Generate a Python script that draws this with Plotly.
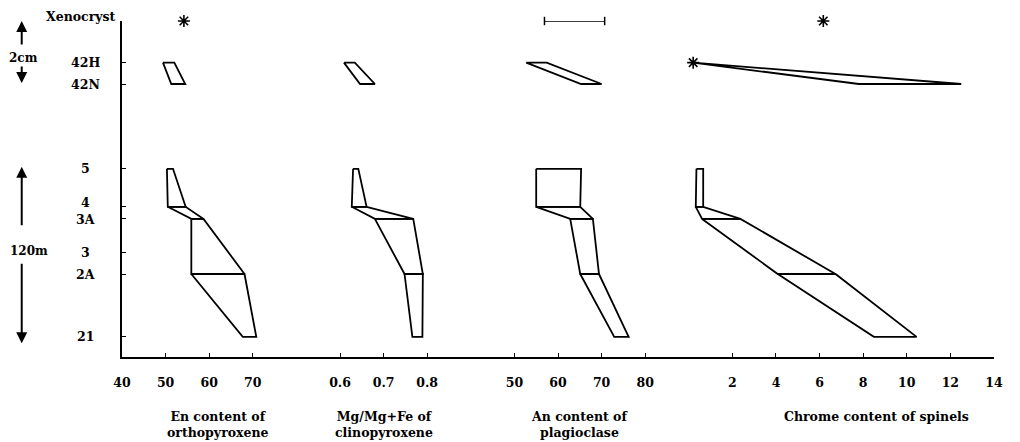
import plotly.graph_objects as go

# ---------------- data ----------------
sample_labels = ["Xenocryst", "42H", "42N", "5", "4", "3A", "3", "2A", "21"]
sample_pos = [0, 12.4, 18.75, 44.0, 55.3, 58.9, 69.0, 75.3, 94.0]

core_levels = ["42H", "42N"]
bore_levels = ["5", "4", "3A", "2A", "21"]

# En content of orthopyroxene
opx_core_min = [49.4, 51.3]
opx_core_max = [52.0, 54.5]
opx_bore_min = [50.3, 50.5, 55.9, 55.9, 67.7]
opx_bore_max = [51.7, 54.6, 58.7, 68.1, 70.8]
opx_xeno = [54.2]

# Mg/Mg+Fe of clinopyroxene
cpx_core_min = [0.609, 0.646]
cpx_core_max = [0.634, 0.680]
cpx_bore_min = [0.630, 0.627, 0.680, 0.748, 0.766]
cpx_bore_max = [0.642, 0.661, 0.768, 0.790, 0.789]

# An content of plagioclase
plag_core_min = [52.7, 65.3]
plag_core_max = [57.4, 70.0]
plag_bore_min = [55.0, 55.0, 62.8, 65.1, 72.9]
plag_bore_max = [65.3, 65.1, 68.0, 69.4, 76.2]
plag_xeno = [56.9, 70.7]

# Chrome content of spinels
spin_core_min = [0.2, 7.8]
spin_core_max = [0.2, 12.5]
spin_bore_min = [0.35, 0.32, 0.61, 4.08, 8.49]
spin_bore_max = [0.66, 0.66, 2.37, 6.73, 10.45]
spin_xeno = [6.17]
spin_42H_point = [0.2]

opx_ticks = [40, 50, 60, 70]
cpx_ticks = [0.6, 0.7, 0.8]
plag_ticks = [50, 60, 70, 80]
spin_ticks = [2, 4, 6, 8, 10, 12, 14]

titles = ["En content of<br>orthopyroxene", "Mg/Mg+Fe of<br>clinopyroxene",
          "An content of<br>plagioclase", "Chrome content of spinels"]
title_x = [62, 0.70, 65, 8.6]

pos = dict(zip(sample_labels, sample_pos))

FONT = "DejaVu Serif"
fig = go.Figure()


def band(levels, mins, maxs, xa):
    xs, ys = [], []
    for i in range(len(levels) - 1):
        y0, y1 = pos[levels[i]], pos[levels[i + 1]]
        xs += [mins[i], maxs[i], maxs[i + 1], mins[i + 1], mins[i], None]
        ys += [y0, y0, y1, y1, y0, None]
    fig.add_trace(go.Scatter(x=xs, y=ys, mode="lines", xaxis=xa, yaxis="y",
                             line=dict(color="black", width=1.8),
                             showlegend=False, hoverinfo="skip", cliponaxis=False))


for xa, cmin, cmax, bmin, bmax in [
    ("x", opx_core_min, opx_core_max, opx_bore_min, opx_bore_max),
    ("x2", cpx_core_min, cpx_core_max, cpx_bore_min, cpx_bore_max),
    ("x3", plag_core_min, plag_core_max, plag_bore_min, plag_bore_max),
    ("x4", spin_core_min, spin_core_max, spin_bore_min, spin_bore_max),
]:
    band(core_levels, cmin, cmax, xa)
    band(bore_levels, bmin, bmax, xa)

star = dict(symbol="asterisk-open", size=10, line=dict(color="black", width=1.6), color="black")
fig.add_trace(go.Scatter(x=opx_xeno, y=[pos["Xenocryst"]], mode="markers", xaxis="x",
                         marker=star, showlegend=False, cliponaxis=False))
fig.add_trace(go.Scatter(x=spin_xeno, y=[pos["Xenocryst"]], mode="markers", xaxis="x4",
                         marker=star, showlegend=False, cliponaxis=False))
fig.add_trace(go.Scatter(x=spin_42H_point, y=[pos["42H"]], mode="markers", xaxis="x4",
                         marker=star, showlegend=False, cliponaxis=False))
fig.add_trace(go.Scatter(x=plag_xeno, y=[pos["Xenocryst"]] * 2, mode="lines+markers", xaxis="x3",
                         line=dict(color="black", width=1.3),
                         marker=dict(symbol="line-ns-open", size=6, line=dict(color="black", width=1.5)),
                         showlegend=False, cliponaxis=False))

tickfont = dict(family=FONT, size=12.5, color="black", weight="bold")
common = dict(showline=True, linecolor="black", linewidth=1.5, ticks="inside", ticklen=4,
              tickcolor="black", tickwidth=1.3, showgrid=False, zeroline=False,
              anchor="y", tickfont=tickfont, ticklabelstandoff=13)


def fmt(v):
    return str(v)


fig.update_layout(
    xaxis=dict(domain=[0, 0.2], range=[40, 80], tickvals=opx_ticks,
               ticktext=[fmt(v) for v in opx_ticks], **common),
    xaxis2=dict(domain=[0.2, 0.4], range=[0.5, 0.9], tickvals=cpx_ticks,
                ticktext=[fmt(v) for v in cpx_ticks], **common),
    xaxis3=dict(domain=[0.4, 0.65], range=[40, 90], tickvals=plag_ticks,
                ticktext=[fmt(v) for v in plag_ticks], **common),
    xaxis4=dict(domain=[0.65, 1], range=[0, 14.001], tickvals=spin_ticks,
                ticktext=[fmt(v) for v in spin_ticks], **common),
    yaxis=dict(range=[100, 0], tickvals=sample_pos, showticklabels=False,
               showline=True, linecolor="black", linewidth=1.5, ticks="inside",
               ticklen=4, tickcolor="black", tickwidth=1.3, showgrid=False, zeroline=False),
    width=1012, height=434,
    margin=dict(l=114, r=26, t=13, b=85),
    plot_bgcolor="white", paper_bgcolor="white",
)

annfont = dict(family=FONT, size=12.5, color="black", weight="bold")
# sample labels
yshift = {"Xenocryst": 5, "4": 4, "3A": -1}
for lab, p in zip(sample_labels, sample_pos):
    if lab == "Xenocryst":
        fig.add_annotation(x=0, y=p, xref="paper", yref="y", text=lab, showarrow=False,
                           xanchor="right", xshift=-4, yshift=yshift[lab], font=annfont)
    else:
        fig.add_annotation(x=-0.0413, y=p, xref="paper", yref="y", text=lab, showarrow=False,
                           xanchor="center", yshift=yshift.get(lab, 0), font=annfont)

# axis titles
for i, (t, tx) in enumerate(zip(titles, title_x)):
    xr = "x" if i == 0 else f"x{i+1}"
    fig.add_annotation(x=tx, y=-0.148, xref=xr, yref="paper", text=t, showarrow=False,
                       xanchor="center", yanchor="top", font=annfont)

# scale arrows
ax_x = -0.115
arrow = dict(xref="paper", yref="y", text="", showarrow=True, arrowhead=2,
             arrowsize=1.1, arrowwidth=2, arrowcolor="black", ax=0)
fig.add_annotation(x=ax_x, y=pos["Xenocryst"], ay=25, **arrow)
fig.add_annotation(x=ax_x, y=pos["42N"] - 0.3, ay=-18, **arrow)
fig.add_annotation(x=ax_x, y=pos["5"] - 0.6, ay=60, **arrow)
fig.add_annotation(x=ax_x, y=pos["21"] + 1.9, ay=-81, **arrow)
smallfont = dict(family=FONT, size=12, color="black", weight="bold")
fig.add_annotation(x=-0.113, y=(pos["Xenocryst"] + pos["42N"]) / 2 + 1.5, xref="paper", yref="y",
                   text="2cm", showarrow=False, xanchor="center", font=smallfont)
fig.add_annotation(x=-0.107, y=(pos["5"] + pos["21"]) / 2 - 0.5, xref="paper", yref="y",
                   text="120m", showarrow=False, xanchor="center", font=smallfont)

fig.write_html("out.html")
